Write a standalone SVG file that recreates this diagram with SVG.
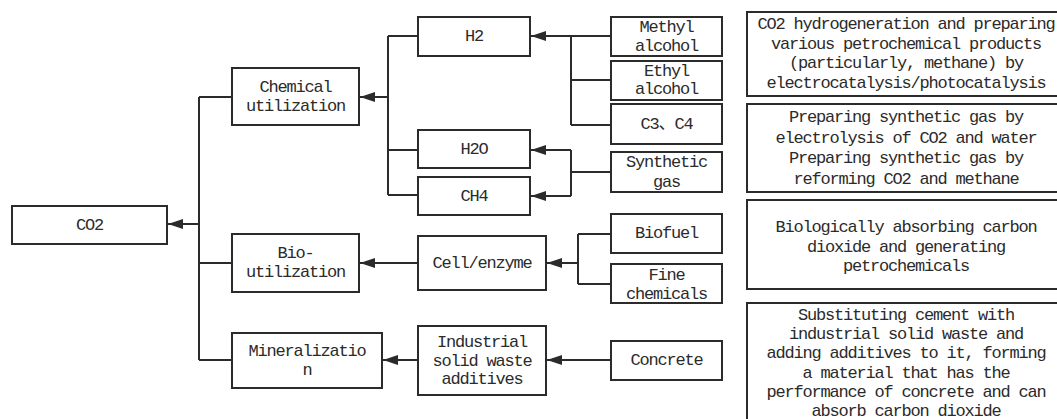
<svg xmlns="http://www.w3.org/2000/svg" width="1057" height="419" viewBox="0 0 1057 419">
<style>
.box{fill:#fff;stroke:#2b2b2b;stroke-width:2}
.t{font-family:"Liberation Mono","Noto Sans CJK SC",monospace;font-size:17px;letter-spacing:-1.2px;fill:#2b2b2b;text-anchor:middle;dominant-baseline:central}
.c{fill:none;stroke:#2b2b2b;stroke-width:2}
</style>
<defs>
<marker id="ah" markerUnits="userSpaceOnUse" markerWidth="16" markerHeight="12" refX="15" refY="5" orient="auto">
<path d="M0,0 L15,5 L0,10 Z" fill="#2b2b2b"/>
</marker>
</defs>
<rect width="1057" height="419" fill="#fff"/>
<g id="connectors">
<path class="c" d="M199,97 V360"/>
<path class="c" d="M199,224 H168" marker-end="url(#ah)"/>
<path class="c" d="M199,97 H232 M199,263 H232 M199,360 H232"/>
<path class="c" d="M388,36 V195 M388,36 H418 M388,150 H418 M388,195 H418"/>
<path class="c" d="M388,97 H360" marker-end="url(#ah)"/>
<path class="c" d="M571,36 V125 M571,80 H611 M571,125 H611"/>
<path class="c" d="M611,36 H531" marker-end="url(#ah)"/>
<path class="c" d="M571,150 V196 M571,172 H611"/>
<path class="c" d="M571,150 H531" marker-end="url(#ah)"/>
<path class="c" d="M571,196 H531" marker-end="url(#ah)"/>
<path class="c" d="M578,234 V284 M578,234 H611 M578,284 H611"/>
<path class="c" d="M578,263 H547" marker-end="url(#ah)"/>
<path class="c" d="M418,263 H360" marker-end="url(#ah)"/>
<path class="c" d="M611,360 H547" marker-end="url(#ah)"/>
<path class="c" d="M418,360 H383" marker-end="url(#ah)"/>
</g>
<g id="co2"><rect class="box" x="12" y="206" width="155" height="38"/><text class="t" x="89.5" y="225">CO2</text></g>
<g id="chemical"><rect class="box" x="232" y="68" width="127" height="57"/><text class="t" x="295.5" y="87">Chemical</text><text class="t" x="295.5" y="106">utilization</text></g>
<g id="bio"><rect class="box" x="232" y="234" width="127" height="58"/><text class="t" x="295.5" y="253">Bio-</text><text class="t" x="295.5" y="272">utilization</text></g>
<g id="mineral"><rect class="box" x="232" y="333" width="150" height="55"/><text class="t" x="307" y="351">Mineralizatio</text><text class="t" x="307" y="370">n</text></g>
<g id="h2"><rect class="box" x="418" y="17" width="112" height="39"/><text class="t" x="474" y="36.5">H2</text></g>
<g id="h2o"><rect class="box" x="418" y="130" width="112" height="38"/><text class="t" x="474" y="149">H2O</text></g>
<g id="ch4"><rect class="box" x="418" y="177" width="112" height="38"/><text class="t" x="474" y="196">CH4</text></g>
<g id="cell"><rect class="box" x="418" y="236" width="128" height="54"/><text class="t" x="482" y="263">Cell/enzyme</text></g>
<g id="industrial"><rect class="box" x="418" y="326" width="128" height="69"/><text class="t" x="482" y="342">Industrial</text><text class="t" x="482" y="361">solid waste</text><text class="t" x="482" y="379">additives</text></g>
<g id="methyl"><rect class="box" x="611" y="17" width="111" height="39"/><text class="t" x="666.5" y="27">Methyl</text><text class="t" x="666.5" y="46">alcohol</text></g>
<g id="ethyl"><rect class="box" x="611" y="61" width="111" height="39"/><text class="t" x="666.5" y="71">Ethyl</text><text class="t" x="666.5" y="89">alcohol</text></g>
<g id="c3c4"><rect class="box" x="611" y="104" width="111" height="40"/><text class="t" x="666.5" y="124">C3、C4</text></g>
<g id="syngas"><rect class="box" x="611" y="152" width="111" height="40"/><text class="t" x="666.5" y="162">Synthetic</text><text class="t" x="666.5" y="182">gas</text></g>
<g id="biofuel"><rect class="box" x="611" y="214" width="111" height="39"/><text class="t" x="666.5" y="233.5">Biofuel</text></g>
<g id="fine"><rect class="box" x="611" y="264" width="111" height="39"/><text class="t" x="666.5" y="275">Fine</text><text class="t" x="666.5" y="294">chemicals</text></g>
<g id="concrete"><rect class="box" x="611" y="341" width="111" height="39"/><text class="t" x="666.5" y="360.5">Concrete</text></g>
<g id="desc1"><rect class="box" x="747" y="12" width="320" height="84"/><text class="t" x="906" y="24">CO2 hydrogeneration and preparing</text><text class="t" x="906" y="44">various petrochemical products</text><text class="t" x="906" y="63">(particularly, methane) by</text><text class="t" x="906" y="83">electrocatalysis/photocatalysis</text></g>
<g id="desc2"><rect class="box" x="747" y="104" width="320" height="88"/><text class="t" x="906" y="117">Preparing synthetic gas by</text><text class="t" x="906" y="138">electrolysis of CO2 and water</text><text class="t" x="906" y="158">Preparing synthetic gas by</text><text class="t" x="906" y="179">reforming CO2 and methane</text></g>
<g id="desc3"><rect class="box" x="747" y="200" width="320" height="89"/><text class="t" x="906" y="227">Biologically absorbing carbon</text><text class="t" x="906" y="247">dioxide and generating</text><text class="t" x="906" y="266">petrochemicals</text></g>
<g id="desc4"><rect class="box" x="747" y="303" width="320" height="130"/><text class="t" x="906" y="315">Substituting cement with</text><text class="t" x="906" y="334">industrial solid waste and</text><text class="t" x="906" y="353">adding additives to it, forming</text><text class="t" x="906" y="373">a material that has the</text><text class="t" x="906" y="392">performance of concrete and can</text><text class="t" x="906" y="411">absorb carbon dioxide</text></g>
</svg>
